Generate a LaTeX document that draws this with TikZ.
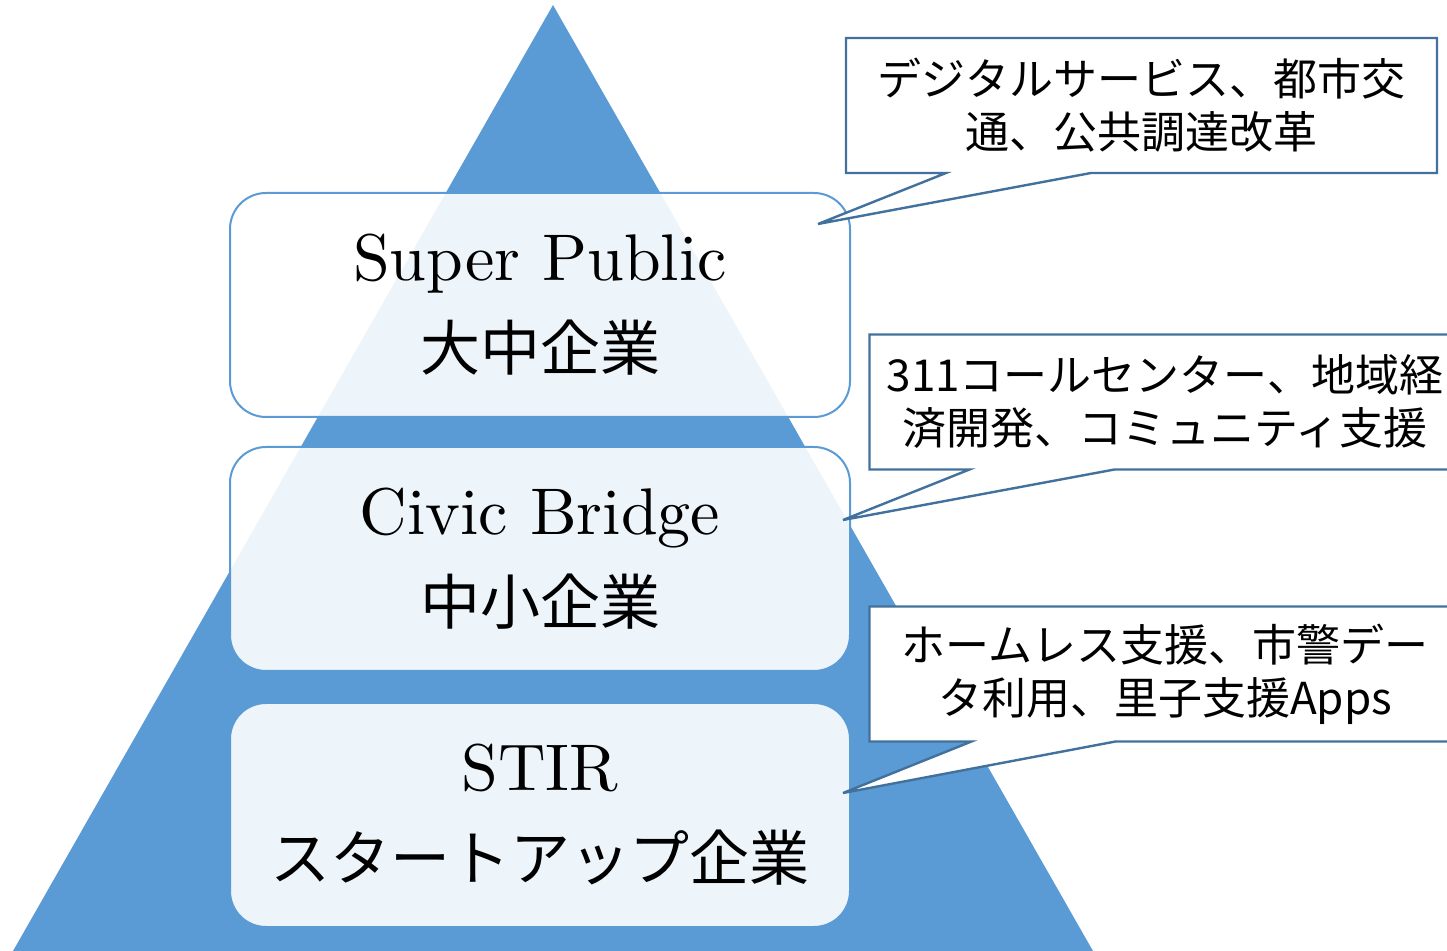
\documentclass[tikz,border=0pt]{standalone}
\usepackage{fontspec}
\setmainfont{lmroman10-regular}[Extension=.otf]
\newfontfamily\cjk{Noto Sans CJK JP}
\usepackage{tikz}
\usetikzlibrary{positioning, calc}
\definecolor{pyramidblue}{RGB}{91,155,213}
\definecolor{noteblue}{RGB}{65,113,156}
\pgfdeclarelayer{back}
\pgfdeclarelayer{mid}
\pgfsetlayers{back,mid,main}
\tikzset{
  tier/.style={
    rectangle, rounded corners=18pt,
    draw=pyramidblue, line width=1pt,
    fill=white, fill opacity=0.9, text opacity=1,
    minimum width=310pt, minimum height=112pt,
    align=center, inner sep=0pt,
    font=\fontsize{33}{45}\selectfont
  },
  note/.style={
    rectangle, inner sep=0pt, outer sep=0pt,
    minimum width=295.5pt, minimum height=67.5pt,
    align=center, font=\cjk\fontsize{22}{26.5}\selectfont
  },
  noteline/.style={draw=noteblue, line width=1.2pt, fill=white, line join=miter}
}
\newcommand{\jptier}[1]{{\cjk\fontsize{30}{45}\selectfont #1}}

\begin{document}
\begin{tikzpicture}[x=0.5pt, y=-0.5pt]

  \useasboundingbox (0,0) rectangle (1447,951);

  % Pyramid and the three tiers
  \begin{pgfonlayer}{back}
    \fill[pyramidblue] (553,5) -- (1093,951) -- (13,951) -- cycle;
    \node[tier] (super) at (540,305) {Super Public\\\jptier{大中企業}};
    \node[tier, below=14pt of super] (civic) {Civic Bridge\\\jptier{中小企業}};
    \node[tier, below=15pt of civic] (stir) {STIR\\\jptier{スタートアップ企業}};
  \end{pgfonlayer}

  % Callout texts
  \node[note] (digital) at (1141.5,105.5) {デジタルサービス、都市交\\通、公共調達改革};
  \node[note] (callcenter) at (1165,402) {311コールセンター、地域経\\済開発、コミュニティ支援};
  \node[note] (homeless) at (1165,674) {ホームレス支援、市警デー\\タ利用、里子支援Apps};

  % Pointer tips
  \coordinate (tipA) at (818,224);
  \coordinate (tipB) at (843,520);
  \coordinate (tipC) at (843,793);

  % Callout outlines
  \begin{pgfonlayer}{mid}
    \draw[noteline] ($(digital.south west)+(100,0)$) -- (tipA) -- ($(digital.south west)+(245,0)$)
      -- (digital.south east) -- (digital.north east) -- (digital.north west) -- (digital.south west) -- cycle;
    \draw[noteline] ($(callcenter.south west)+(100,0)$) -- (tipB) -- ($(callcenter.south west)+(245,0)$)
      -- (callcenter.south east) -- (callcenter.north east) -- (callcenter.north west) -- (callcenter.south west) -- cycle;
    \draw[noteline] ($(homeless.south west)+(102,0)$) -- (tipC) -- ($(homeless.south west)+(246,0)$)
      -- (homeless.south east) -- (homeless.north east) -- (homeless.north west) -- (homeless.south west) -- cycle;
  \end{pgfonlayer}

\end{tikzpicture}
\end{document}
